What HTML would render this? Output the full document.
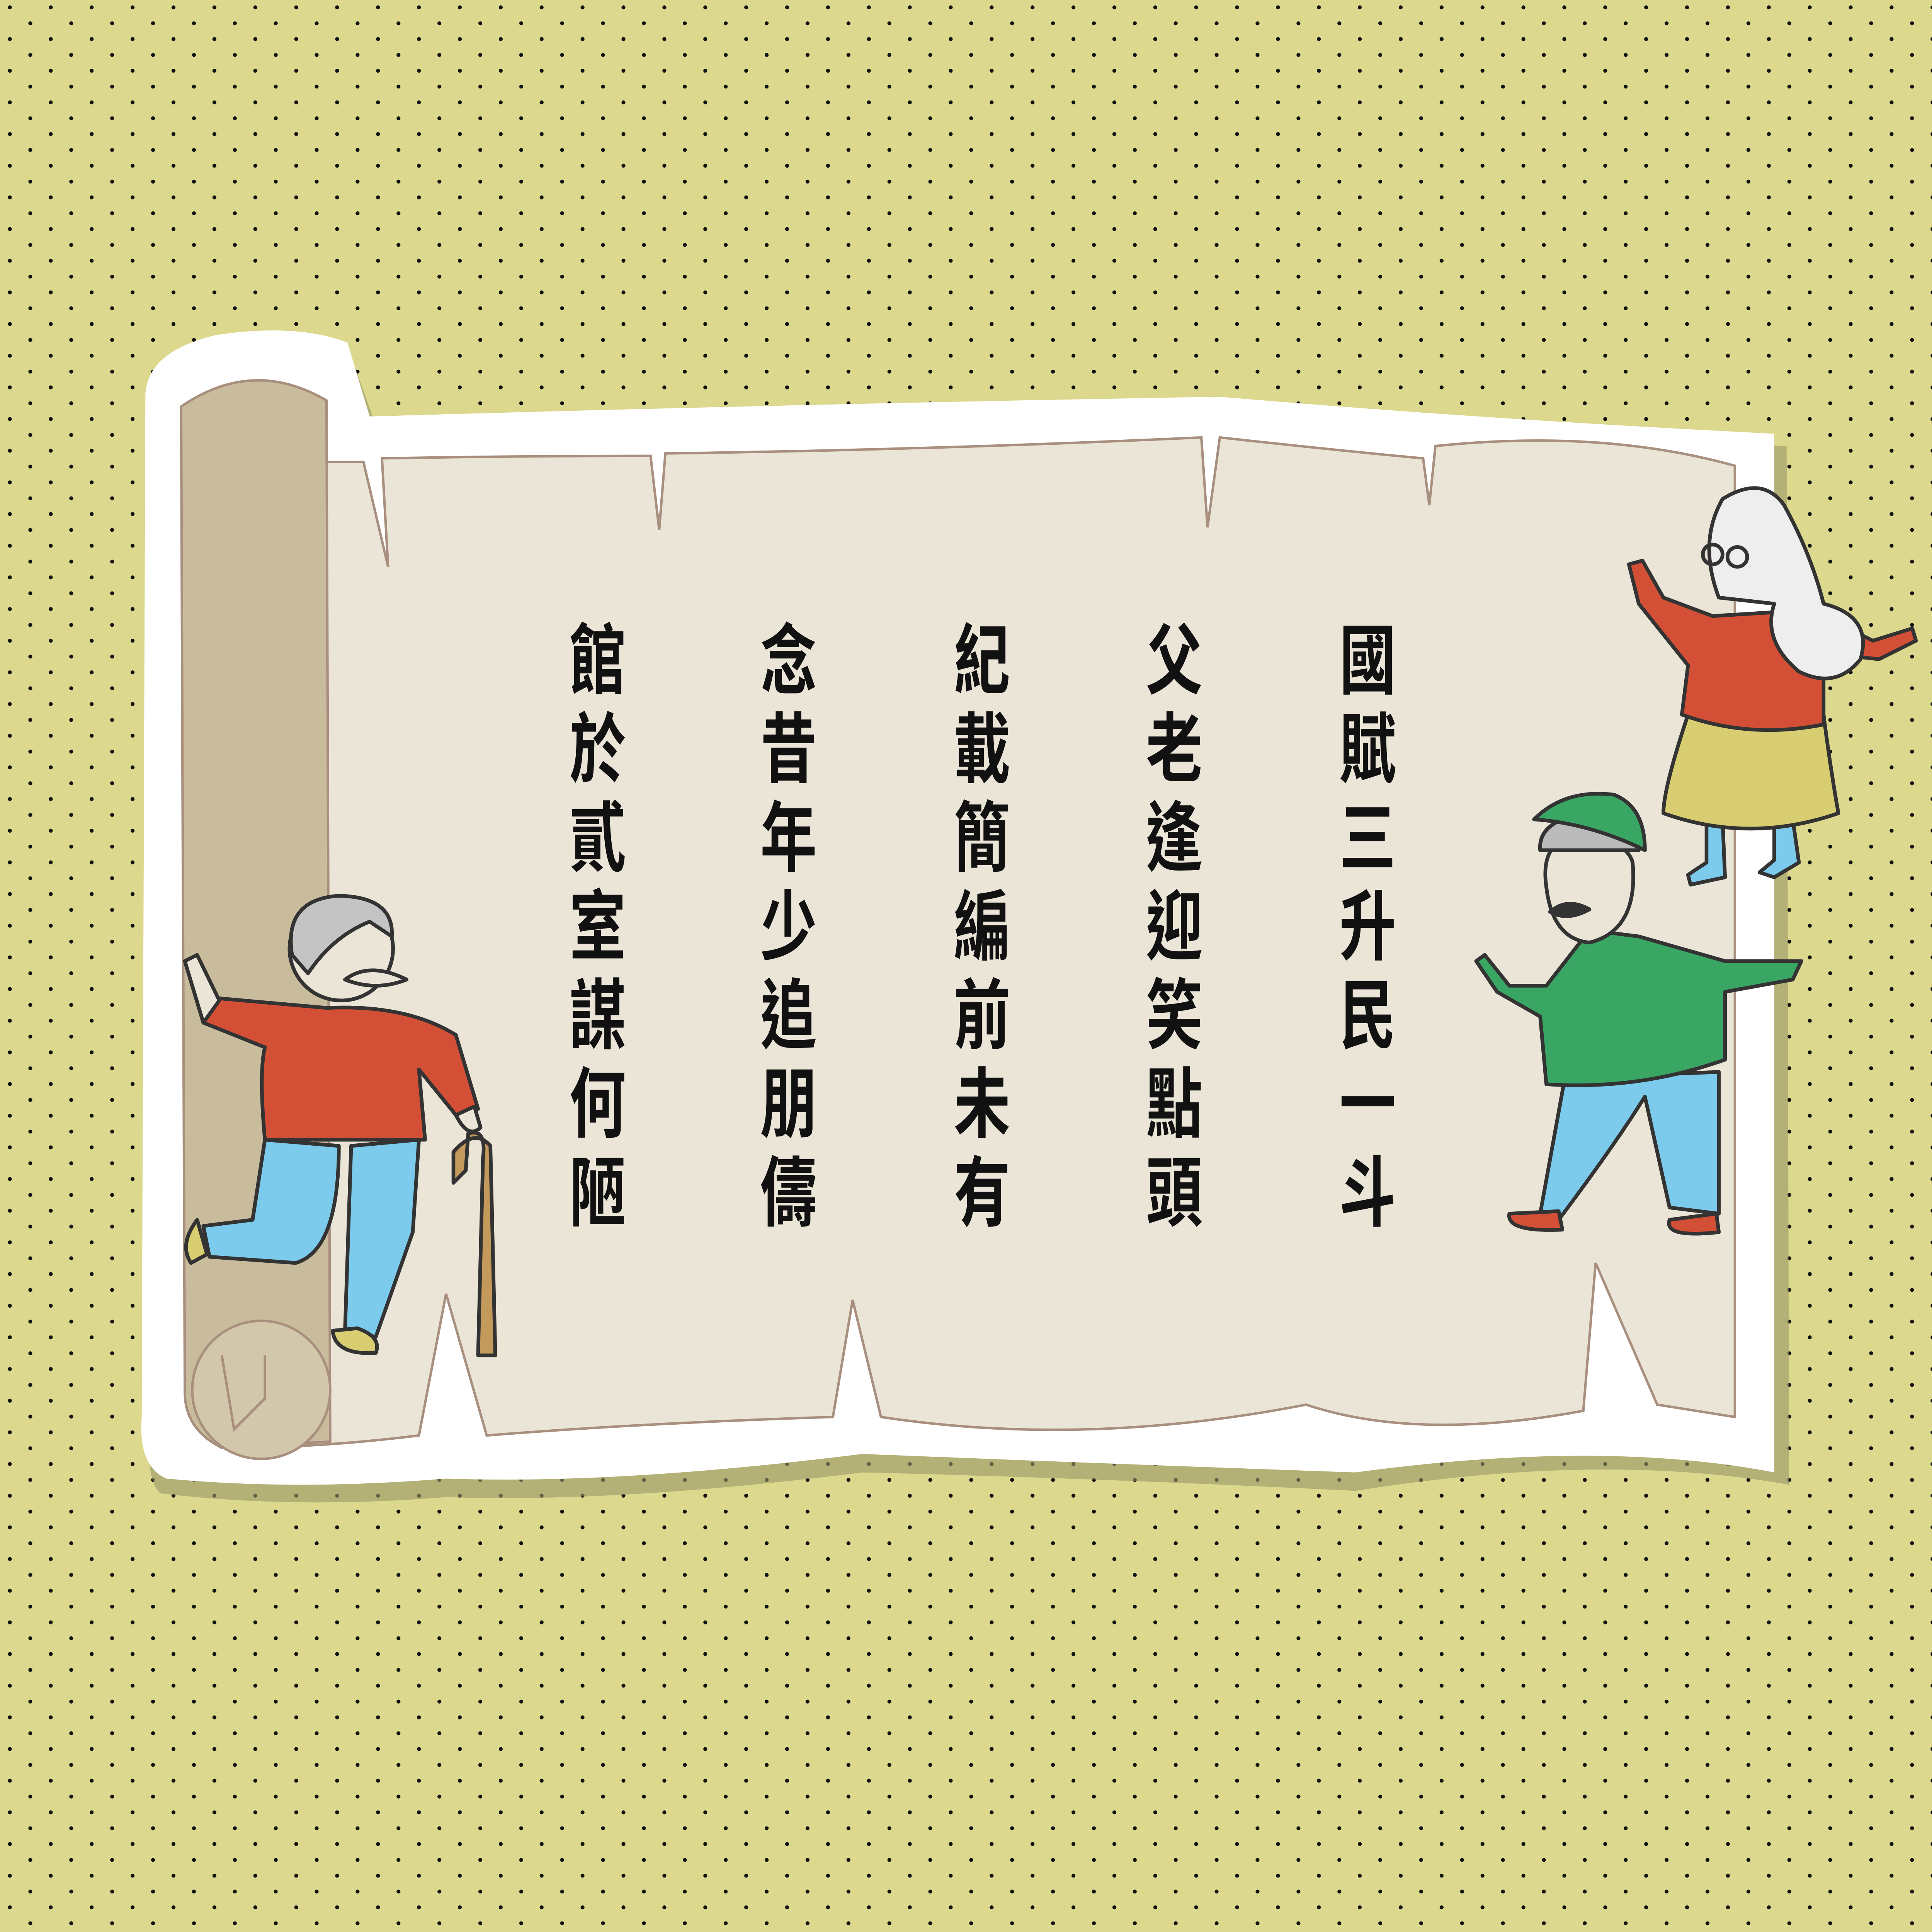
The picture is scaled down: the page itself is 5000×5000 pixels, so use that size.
<!DOCTYPE html>
<html><head><meta charset="utf-8">
<style>html,body{margin:0;padding:0;background:#dcd88e}svg{display:block}</style>
</head><body>
<svg width="5000" height="5000" viewBox="0 0 1568 1568" xmlns="http://www.w3.org/2000/svg">
<defs>
<pattern id="dots" patternUnits="userSpaceOnUse" width="33.2" height="25.7">
<circle cx="8" cy="6" r="1.6" fill="#111"/>
<circle cx="24.6" cy="18.9" r="1.6" fill="#111"/>
</pattern>
</defs>
<rect width="1568" height="1568" fill="#dcd88e"/>
<rect width="1568" height="1568" fill="url(#dots)"/>

<path d="M128,312 Q200,282 286,292 L305,345 Q640,335 990,332 Q1200,352 1450,362 L1452,1205 Q1300,1178 1100,1210 Q900,1200 700,1195 Q500,1220 362,1215 Q240,1225 130,1212 Q118,1200 122,1160 Z" fill="#9a9868" opacity="0.6"/>
<path d="M118,320 Q120,285 175,272 Q240,262 282,278 L300,338 Q640,328 990,322 Q1200,340 1440,352 L1440,1195 Q1300,1168 1100,1195 Q900,1188 700,1180 Q500,1205 362,1200 Q240,1210 135,1200 Q112,1190 115,1150 Z" fill="#ffffff"/>
<path d="M265,375 L295,375 L315,460 L310,372 Q420,370 528,370 L535,430 L540,368 Q760,365 975,355 L980,428 L990,355 Q1080,365 1155,372 L1160,410 L1165,362 Q1300,348 1408,378 L1408,1150 L1345,1140 L1295,1025 L1285,1145 Q1150,1170 1060,1140 Q880,1175 715,1150 L692,1055 L676,1150 Q520,1155 395,1165 L362,1050 L340,1165 Q260,1175 185,1175 L265,375 Z" fill="#ebe5d8" stroke="#a88f7e" stroke-width="2"/>
<path d="M147,330 Q205,290 265,325 L268,1170 L180,1175 Q150,1160 150,1130 Z" fill="#c9bc9c" stroke="#a88f7e" stroke-width="2"/>
<circle cx="212" cy="1128" r="56" fill="#d3c7ab" stroke="#a88f7e" stroke-width="2"/>
<path d="M180,1100 L190,1160 L215,1135 L215,1100" fill="none" stroke="#a88f7e" stroke-width="2"/>

<g font-family="'Liberation Sans','Noto Sans CJK TC',sans-serif" font-weight="bold" font-size="54" fill="#111" text-anchor="middle">
<g transform="translate(1110,0)">
<text transform="translate(0,558) scale(0.85,1.15)">國</text><text transform="translate(0,630) scale(0.85,1.15)">賦</text><text transform="translate(0,702) scale(0.85,1.15)">三</text><text transform="translate(0,774) scale(0.85,1.15)">升</text><text transform="translate(0,846) scale(0.85,1.15)">民</text><text transform="translate(0,918) scale(0.85,1.15)">一</text><text transform="translate(0,990) scale(0.85,1.15)">斗</text></g>
<g transform="translate(953,0)">
<text transform="translate(0,558) scale(0.85,1.15)">父</text><text transform="translate(0,630) scale(0.85,1.15)">老</text><text transform="translate(0,702) scale(0.85,1.15)">逢</text><text transform="translate(0,774) scale(0.85,1.15)">迎</text><text transform="translate(0,846) scale(0.85,1.15)">笑</text><text transform="translate(0,918) scale(0.85,1.15)">點</text><text transform="translate(0,990) scale(0.85,1.15)">頭</text></g>
<g transform="translate(797,0)">
<text transform="translate(0,558) scale(0.85,1.15)">紀</text><text transform="translate(0,630) scale(0.85,1.15)">載</text><text transform="translate(0,702) scale(0.85,1.15)">簡</text><text transform="translate(0,774) scale(0.85,1.15)">編</text><text transform="translate(0,846) scale(0.85,1.15)">前</text><text transform="translate(0,918) scale(0.85,1.15)">未</text><text transform="translate(0,990) scale(0.85,1.15)">有</text></g>
<g transform="translate(640,0)">
<text transform="translate(0,558) scale(0.85,1.15)">念</text><text transform="translate(0,630) scale(0.85,1.15)">昔</text><text transform="translate(0,702) scale(0.85,1.15)">年</text><text transform="translate(0,774) scale(0.85,1.15)">少</text><text transform="translate(0,846) scale(0.85,1.15)">追</text><text transform="translate(0,918) scale(0.85,1.15)">朋</text><text transform="translate(0,990) scale(0.85,1.15)">儔</text></g>
<g transform="translate(485,0)">
<text transform="translate(0,558) scale(0.85,1.15)">館</text><text transform="translate(0,630) scale(0.85,1.15)">於</text><text transform="translate(0,702) scale(0.85,1.15)">貳</text><text transform="translate(0,774) scale(0.85,1.15)">室</text><text transform="translate(0,846) scale(0.85,1.15)">謀</text><text transform="translate(0,918) scale(0.85,1.15)">何</text><text transform="translate(0,990) scale(0.85,1.15)">陋</text></g>
</g>

<g stroke="#333" stroke-width="3" stroke-linejoin="round">
<path d="M285,930 L280,1080 L305,1085 L335,1000 L340,925 Z" fill="#7ccbec"/>
<path d="M215,925 L205,990 L165,995 L170,1020 L240,1025 Q275,1015 275,930 Z" fill="#7ccbec"/>
<path d="M270,1080 Q272,1100 305,1098 Q310,1085 290,1078 Z" fill="#d8cd70"/>
<path d="M160,990 Q145,1010 155,1025 L168,1018 Z" fill="#d8cd70"/>
<path d="M175,810 Q230,815 265,818 Q330,815 370,840 L388,900 L370,905 L340,868 L345,925 L215,925 Q210,870 215,850 L165,830 Z" fill="#d35036"/>
<path d="M165,830 L150,780 L160,775 L178,812 Z" fill="#ebe5d8"/>
<path d="M370,905 Q380,925 390,915 L385,898 Z" fill="#ebe5d8"/>
<path d="M388,1100 L392,940 Q395,915 380,920 L378,950 L368,960 L368,935 Q385,915 398,930 L402,1100 Z" fill="#c39a5c"/>
<circle cx="277" cy="770" r="42" fill="#ebe5d8"/>
<path d="M237,775 Q230,730 275,727 Q320,728 318,760 L300,748 Q270,760 250,790 Z" fill="#c4c4c4"/>
<path d="M280,795 Q300,780 330,795 Q305,805 280,795 Z" fill="#ebe5d8"/>
</g>

<g stroke="#333" stroke-width="3" stroke-linejoin="round">
<path d="M1385,665 L1385,700 L1370,710 L1372,718 L1400,712 L1398,665 Z" fill="#7ccbec"/>
<path d="M1440,665 L1440,698 L1428,708 L1440,712 L1460,700 L1455,665 Z" fill="#7ccbec"/>
<path d="M1370,580 Q1350,640 1350,660 Q1420,685 1492,660 Q1485,620 1480,580 Z" fill="#d8cd70"/>
<path d="M1370,540 L1330,490 L1322,458 L1333,455 L1350,485 L1390,500 L1470,495 L1520,520 L1552,510 L1555,520 L1525,535 L1480,530 L1480,588 Q1420,600 1365,580 Z" fill="#d35036"/>
<path d="M1395,485 Q1378,440 1398,405 Q1430,385 1448,410 Q1470,450 1480,490 Q1520,500 1510,535 Q1490,560 1460,545 Q1430,520 1440,490 Z" fill="#eeeeee"/>
<circle cx="1390" cy="450" r="8" fill="none"/>
<circle cx="1410" cy="452" r="8" fill="none"/>
</g>

<g stroke="#333" stroke-width="3" stroke-linejoin="round">
<path d="M1270,875 L1250,985 L1265,990 Q1310,930 1335,890 L1355,980 L1395,985 L1395,870 Z" fill="#7ccbec"/>
<path d="M1225,985 Q1222,1000 1268,998 L1265,983 Z" fill="#d35036"/>
<path d="M1355,990 Q1350,1005 1395,1000 L1393,985 Z" fill="#d35036"/>
<path d="M1255,800 L1225,800 L1205,775 L1198,780 L1215,805 L1250,825 L1255,880 Q1330,885 1400,860 L1400,805 L1455,795 L1462,780 L1400,780 L1330,760 L1290,755 Z" fill="#3aa664"/>
<path d="M1255,720 Q1250,685 1275,680 Q1320,680 1325,700 Q1330,755 1290,765 Q1260,762 1255,720 Z" fill="#ebe5d8"/>
<path d="M1250,690 Q1248,665 1290,660 L1330,665 L1330,690 Z" fill="#bbbbbb"/>
<path d="M1245,665 Q1270,640 1310,645 Q1335,655 1335,690 Q1290,668 1245,665 Z" fill="#3aa664"/>
<path d="M1258,740 Q1272,728 1290,738 Q1272,748 1258,740 Z" fill="#333"/>
</g>
</svg>
</body></html>
